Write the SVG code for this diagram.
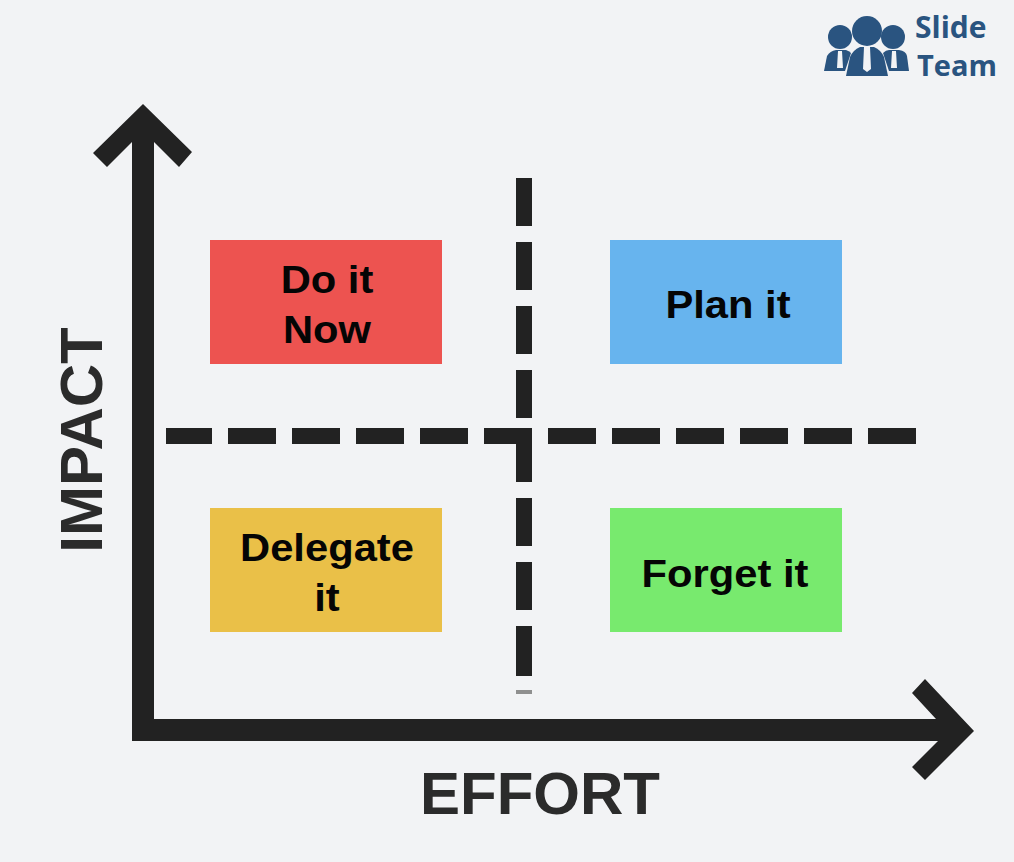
<svg xmlns="http://www.w3.org/2000/svg" width="1014" height="862" viewBox="0 0 1014 862">
<style>
text{font-family:"Liberation Sans",Arial,sans-serif;font-weight:700;text-anchor:middle}
.lbl{font-size:39px;fill:#050505}
.ax{font-size:60px;fill:#2b2b2b}
.dash{fill:none;stroke:#222;stroke-width:16}
.axis{fill:#222}
.logo{fill:#2a5480}
.tie{fill:#f2f3f5}
.lt{font-family:"Open Sans","Liberation Sans",sans-serif;fill:#2a5480;text-anchor:start}
</style>
<rect width="1014" height="862" fill="#f2f3f5"/>
<g id="connectors">
<path id="h-divider" class="dash" d="M166 436H212M228 436H276M292 436H340M356 436H404M420 436H468M484 436H532M548 436H596M612 436H660M676 436H724M740 436H788M804 436H852M868 436H916"/>
<path id="v-divider" class="dash" d="M524 178V226M524 242V290M524 306V354M524 370V418M524 428V482M524 498V546M524 562V610M524 626V676"/>
<rect x="516" y="690" width="16" height="4" fill="#8f8f8f"/>
<path id="axes" class="axis" d="M143 104L192 152L179 167L154 142V719H936L912 693L925 679L974 731L925 780L912 767L938 741H132V142L107 167L93 153Z"/>
</g>
<g id="do-it-now"><rect x="210" y="240" width="232" height="124" fill="#ed5350"/><text class="lbl" transform="translate(327 293) scale(1.07 1)">Do it</text><text class="lbl" transform="translate(327 343) scale(1.07 1)">Now</text></g>
<g id="plan-it"><rect x="610" y="240" width="232" height="124" fill="#67b4ee"/><text class="lbl" transform="translate(728 318) scale(1.07 1)">Plan it</text></g>
<g id="delegate-it"><rect x="210" y="508" width="232" height="124" fill="#eac048"/><text class="lbl" transform="translate(327 561) scale(1.07 1)">Delegate</text><text class="lbl" transform="translate(327 611) scale(1.07 1)">it</text></g>
<g id="forget-it"><rect x="610" y="508" width="232" height="124" fill="#78ea6e"/><text class="lbl" transform="translate(725 587) scale(1.07 1)">Forget it</text></g>
<text id="impact-label" class="ax" transform="translate(102 440) rotate(-90)">IMPACT</text>
<text id="effort-label" class="ax" x="540" y="814">EFFORT</text>
<g id="slide-team-logo">
<circle class="logo" cx="840" cy="37" r="12"/><circle class="logo" cx="893" cy="37" r="12"/><circle class="logo" cx="867" cy="31" r="15"/>
<path class="logo" d="M824 71L827 56Q830 51 836 50H846Q849 51 851 53L845 71Z"/>
<path class="logo" d="M889 71L883 53Q886 50 889 50H899Q906 51 907 56L909 71Z"/>
<path class="logo" d="M846 76L850 57Q853 50 860 47H874Q881 50 884 57L888 76Z"/>
<path class="tie" d="M838 51H842L843 68H837ZM892 51H896L897 68H891ZM864 47H870L871 69L867 72L863 69Z"/>
<text class="lt" x="915" y="38" font-size="30">Slide</text><text class="lt" x="917" y="76" font-size="29">Team</text>
</g>
</svg>
